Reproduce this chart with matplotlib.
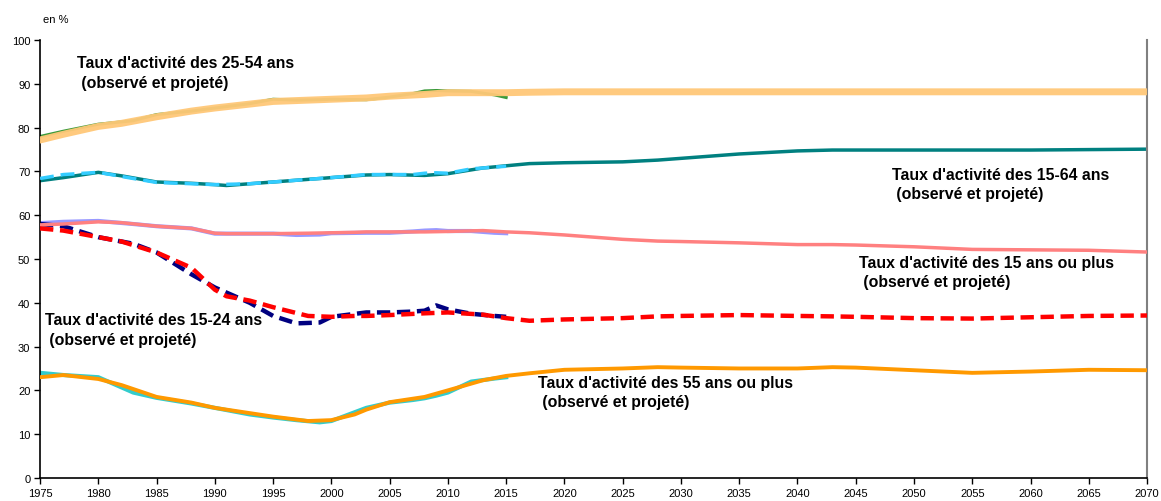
import matplotlib.pyplot as plt
import numpy as np

plt.rcParams['font.family'] = ['Liberation Sans', 'DejaVu Sans']

# observed series (1975-2015)
obs_years = [1975, 1977, 1980, 1983, 1985, 1988, 1990, 1993, 1995, 1997, 1999, 2000, 2003,
             2005, 2007, 2008, 2009, 2010, 2012, 2014, 2015]
obs_2554 = [78.0, 79.2, 80.8, 81.6, 83.0, 83.8, 84.5, 85.5, 86.5, 86.3, 86.4, 86.5, 86.4,
            87.0, 87.8, 88.4, 88.5, 88.4, 88.3, 87.5, 86.9]
obs_1564 = [68.4, 69.3, 69.8, 68.4, 67.5, 67.2, 67.0, 67.2, 67.6, 68.0, 68.4, 68.6, 69.3,
            69.3, 69.3, 69.6, 69.7, 69.6, 70.6, 71.0, 71.2]
obs_15p = [58.2, 58.5, 58.7, 58.0, 57.5, 57.0, 55.8, 55.8, 55.8, 55.5, 55.6, 55.9, 56.0,
           56.0, 56.3, 56.5, 56.6, 56.4, 56.4, 56.0, 55.9]
obs_1524 = [58.0, 57.5, 55.0, 53.5, 51.5, 46.5, 43.5, 40.0, 37.0, 35.3, 35.5, 36.8, 37.8,
            37.8, 38.0, 38.2, 39.4, 38.5, 37.5, 37.0, 36.8]
obs_55p = [24.0, 23.5, 23.0, 19.5, 18.3, 17.0, 16.0, 14.5, 13.8, 13.2, 12.7, 13.0, 16.0,
           17.2, 17.8, 18.2, 18.8, 19.5, 22.0, 22.7, 23.0]

# projected series (1975-2070)
proj_years = [1975, 1977, 1980, 1982, 1985, 1988, 1990, 1991, 1993, 1995, 1998, 2000, 2002,
              2003, 2005, 2008, 2010, 2013, 2015, 2017, 2020, 2025, 2028, 2030, 2035, 2040,
              2043, 2045, 2050, 2055, 2060, 2065, 2070]
proj_2554 = [77.2, 78.5, 80.3, 81.0, 82.5, 83.8, 84.5, 84.8, 85.4, 86.0, 86.3, 86.5, 86.7,
             86.8, 87.2, 87.6, 88.0, 88.0, 88.0, 88.1, 88.2, 88.2, 88.2, 88.2, 88.2, 88.2,
             88.2, 88.2, 88.2, 88.2, 88.2, 88.2, 88.2]
proj_1564 = [67.9, 68.6, 69.8, 69.0, 67.6, 67.3, 67.0, 66.8, 67.2, 67.6, 68.2, 68.6, 69.0,
             69.2, 69.3, 69.1, 69.5, 70.8, 71.3, 71.8, 72.0, 72.2, 72.6, 73.0, 74.0, 74.7,
             74.9, 74.9, 74.9, 74.9, 74.9, 75.0, 75.1]
proj_15p = [57.8, 58.0, 58.5, 58.3, 57.5, 57.0, 55.9, 55.8, 55.8, 55.8, 55.9, 56.0, 56.1,
            56.2, 56.2, 56.2, 56.3, 56.5, 56.2, 56.0, 55.5, 54.5, 54.1, 54.0, 53.7, 53.3,
            53.3, 53.2, 52.8, 52.2, 52.1, 52.0, 51.6]
proj_1524 = [57.0, 56.5, 55.0, 54.0, 51.5, 48.0, 43.0, 41.5, 40.5, 39.0, 37.0, 36.8, 37.0,
             37.0, 37.2, 37.6, 37.8, 37.3, 36.5, 35.9, 36.2, 36.5, 36.9, 37.0, 37.2, 37.0,
             36.9, 36.8, 36.5, 36.4, 36.7, 37.0, 37.1]
proj_55p = [23.0, 23.5, 22.6, 21.2, 18.5, 17.2, 16.0, 15.6, 14.8, 14.0, 13.0, 13.2, 14.5,
            15.6, 17.3, 18.5, 20.0, 22.3, 23.3, 23.9, 24.7, 25.0, 25.3, 25.2, 25.0, 25.0,
            25.3, 25.2, 24.6, 24.0, 24.3, 24.7, 24.6]

fig = plt.figure(figsize=(11.61, 5.02), dpi=100)
ax = fig.add_axes([0.0345, 0.046, 0.9535, 0.872])

# 25-54
ax.plot(obs_years, obs_2554, color='#3a9a3a', lw=2.2, zorder=2)
ax.plot(proj_years, proj_2554, color='#ffc878', lw=5, zorder=3, alpha=0.95)
# 15-64
ax.plot(proj_years, proj_1564, color='#008080', lw=2.5, zorder=2)
ax.plot(obs_years, obs_1564, color='#33ccff', lw=2.5, ls=(0, (4, 2)), zorder=3)
# 15 ans ou plus
ax.plot(obs_years, obs_15p, color='#9999ff', lw=3, zorder=2)
ax.plot(proj_years, proj_15p, color='#ff8080', lw=2.5, zorder=3)
# 15-24
ax.plot(obs_years, obs_1524, color='#000080', lw=3.2, ls=(0, (3, 1.5)), zorder=2)
ax.plot(proj_years, proj_1524, color='#ff0000', lw=3.2, ls=(0, (3, 1.5)), zorder=3)
# 55 ans ou plus
ax.plot(obs_years, obs_55p, color='#33cccc', lw=3, zorder=2)
ax.plot(proj_years, proj_55p, color='#ff9900', lw=2.8, zorder=3)

ax.set_xlim(1975, 2070)
ax.set_ylim(0, 100)
ax.set_xticks(np.arange(1975, 2071, 5))
ax.set_yticks(np.arange(0, 101, 10))
ax.tick_params(direction='out', length=4, width=1, labelsize=8, pad=3)
ax.spines['top'].set_visible(False)
ax.spines['right'].set_color('#808080')
ax.spines['right'].set_linewidth(1.5)
ax.spines['left'].set_linewidth(1.2)
ax.spines['bottom'].set_linewidth(1.2)

fig.text(0.037, 0.955, 'en %', fontsize=8)

kw = dict(fontsize=11.4, fontweight='bold', va='top', linespacing=1.35)
ax.text(1978.2, 96.5, "Taux d'activité des 25-54 ans\n (observé et projeté)", **kw)
ax.text(2048.1, 71.0, "Taux d'activité des 15-64 ans\n (observé et projeté)", **kw)
ax.text(2045.3, 51.0, "Taux d'activité des 15 ans ou plus\n (observé et projeté)", **kw)
ax.text(1975.4, 37.8, "Taux d'activité des 15-24 ans\n (observé et projeté)", **kw)
ax.text(2017.7, 23.5, "Taux d'activité des 55 ans ou plus\n (observé et projeté)", **kw)

plt.savefig('out.png', dpi=100)
